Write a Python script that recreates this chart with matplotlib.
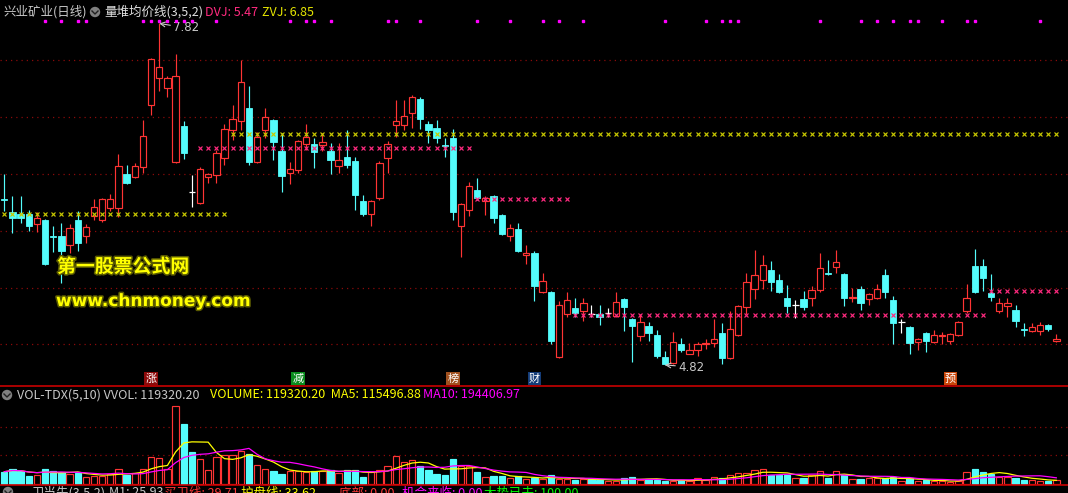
import matplotlib
matplotlib.use('Agg')
import matplotlib.pyplot as plt
import matplotlib.patheffects as pe
from matplotlib.patches import Circle
import matplotlib.transforms as mtransforms
import numpy as np
import pandas as pd

# ---------------- data ----------------
opens = [6.28, 6.16, 6.15, 6.15, 6.06, 6.09, 5.95, 5.95, 5.87, 6.09,
         5.95, 6.13, 6.09, 6.20, 6.20, 6.50, 6.47, 6.56, 7.10, 7.34,
         7.25, 6.60, 6.92, 6.34, 6.24, 6.47, 6.49, 6.64, 6.88, 6.96,
         7.08, 6.60, 6.88, 6.97, 6.70, 6.51, 6.53, 6.76, 6.76, 6.75,
         6.70, 6.57, 6.65, 6.61, 6.26, 6.15, 6.29, 6.64, 6.93, 6.93,
         7.03, 7.16, 6.94, 6.90, 6.75, 6.81, 6.04, 6.18, 6.36, 6.26,
         6.30, 6.14, 5.95, 6.01, 5.79, 5.80, 5.46, 5.46, 4.89, 5.27,
         5.32, 5.29, 5.27, 5.27, 5.28, 5.25, 5.40, 5.22, 5.07, 5.16,
         5.08, 4.89, 4.84, 5.00, 4.92, 4.95, 5.00, 5.01, 5.10, 4.88,
         5.08, 5.33, 5.49, 5.57, 5.65, 5.57, 5.41, 5.35, 5.40, 5.41,
         5.48, 5.63, 5.68, 5.62, 5.41, 5.49, 5.40, 5.41, 5.61, 5.39,
         5.20, 5.15, 5.02, 5.10, 5.02, 5.07, 5.03, 5.08, 5.29, 5.69,
         5.69, 5.45, 5.29, 5.34, 5.30, 5.14, 5.12, 5.12, 5.17, 5.03]
closes = [6.27, 6.11, 6.11, 6.04, 6.11, 5.71, 5.94, 5.82, 6.02, 5.89,
          6.03, 6.21, 6.28, 6.28, 6.57, 6.42, 6.57, 6.83, 7.51, 7.44,
          7.34, 7.36, 6.68, 6.34, 6.54, 6.50, 6.68, 6.89, 6.98, 7.31,
          6.60, 6.82, 7.00, 6.78, 6.48, 6.54, 6.79, 6.82, 6.69, 6.78,
          6.62, 6.62, 6.58, 6.31, 6.15, 6.26, 6.59, 6.76, 6.96, 7.01,
          7.17, 6.98, 6.88, 6.81, 6.74, 6.16, 6.23, 6.39, 6.29, 6.29,
          6.11, 5.97, 6.02, 5.82, 5.80, 5.51, 5.56, 5.03, 5.35, 5.39,
          5.28, 5.36, 5.27, 5.24, 5.28, 5.37, 5.33, 5.16, 5.20, 5.10,
          4.90, 4.83, 5.02, 4.95, 4.95, 5.00, 5.01, 5.05, 4.88, 5.14,
          5.34, 5.55, 5.61, 5.70, 5.55, 5.46, 5.34, 5.35, 5.33, 5.48,
          5.67, 5.62, 5.72, 5.41, 5.42, 5.36, 5.44, 5.49, 5.46, 5.19,
          5.20, 5.01, 5.05, 5.03, 5.08, 5.08, 5.09, 5.20, 5.41, 5.46,
          5.58, 5.42, 5.36, 5.36, 5.21, 5.13, 5.15, 5.17, 5.14, 5.05]
highs = [6.50, 6.30, 6.30, 6.18, 6.16, 6.10, 6.04, 6.07, 6.06, 6.17,
         6.06, 6.28, 6.29, 6.32, 6.67, 6.58, 6.59, 6.97, 7.52, 7.82,
         7.36, 7.55, 6.96, 6.49, 6.56, 6.51, 6.71, 6.94, 7.10, 7.50,
         7.27, 6.87, 7.08, 6.98, 6.86, 6.60, 6.80, 6.94, 6.81, 6.86,
         6.77, 6.77, 6.88, 6.65, 6.31, 6.27, 6.61, 6.79, 7.15, 7.15,
         7.19, 7.17, 6.96, 6.97, 6.81, 6.89, 6.24, 6.43, 6.46, 6.30,
         6.31, 6.15, 6.06, 6.07, 5.87, 5.82, 5.63, 5.47, 5.38, 5.46,
         5.41, 5.41, 5.35, 5.35, 5.32, 5.46, 5.41, 5.23, 5.27, 5.20,
         5.13, 4.94, 5.11, 5.06, 5.01, 5.02, 5.05, 5.22, 5.19, 5.29,
         5.35, 5.63, 5.83, 5.79, 5.73, 5.62, 5.52, 5.39, 5.47, 5.51,
         5.80, 5.74, 5.83, 5.63, 5.50, 5.51, 5.45, 5.53, 5.66, 5.43,
         5.22, 5.16, 5.06, 5.11, 5.13, 5.11, 5.10, 5.21, 5.53, 5.84,
         5.75, 5.62, 5.41, 5.41, 5.35, 5.19, 5.19, 5.20, 5.18, 5.09]
lows = [6.17, 5.98, 6.07, 6.00, 5.99, 5.70, 5.81, 5.54, 5.80, 5.82,
        5.89, 6.09, 6.08, 6.17, 6.12, 6.41, 6.46, 6.51, 7.02, 7.23,
        7.17, 6.59, 6.63, 6.21, 6.23, 6.42, 6.42, 6.58, 6.80, 6.88,
        6.58, 6.59, 6.81, 6.62, 6.34, 6.41, 6.51, 6.71, 6.55, 6.70,
        6.50, 6.51, 6.55, 6.18, 6.13, 6.04, 6.27, 6.51, 6.82, 6.88,
        6.90, 6.89, 6.77, 6.77, 6.65, 6.09, 5.77, 6.13, 6.27, 6.14,
        6.07, 5.96, 5.91, 5.81, 5.71, 5.38, 5.45, 5.00, 4.88, 5.24,
        5.24, 5.21, 5.24, 5.17, 5.24, 5.24, 5.12, 4.85, 5.03, 5.03,
        4.88, 4.82, 4.83, 4.93, 4.92, 4.90, 4.96, 4.98, 4.83, 4.87,
        5.07, 5.27, 5.40, 5.49, 5.47, 5.45, 5.28, 5.23, 5.30, 5.34,
        5.46, 5.61, 5.63, 5.34, 5.37, 5.30, 5.35, 5.40, 5.41, 5.00,
        5.10, 4.92, 4.95, 4.93, 5.01, 5.00, 5.00, 5.07, 5.28, 5.45,
        5.47, 5.38, 5.28, 5.24, 5.15, 5.07, 5.11, 5.08, 5.12, 5.02]
volumes = [387500, 463100, 409500, 252000, 274100, 463100, 400100, 378000, 305600, 356000,
           211100, 261500, 261500, 324500, 463100, 283500, 337100, 463100, 841100, 809600,
           463100, 2457000, 1890000, 1017500, 787500, 441000, 841100, 904100, 904100, 1030100,
           945000, 589100, 472500, 419000, 305600, 419000, 419000, 368600, 419000, 419000,
           431600, 337100, 441000, 441000, 220500, 378000, 441000, 557600, 872600, 683600,
           746600, 567000, 441000, 305600, 283500, 787500, 576500, 567000, 378000, 220500,
           252000, 252000, 189000, 252000, 157500, 189000, 157500, 274100, 167000, 148100,
           126000, 167000, 148100, 126000, 94500, 94500, 189000, 220500, 135500, 148100,
           126000, 94500, 94500, 126000, 94500, 179600, 126000, 211100, 179600, 274100,
           337100, 337100, 431600, 463100, 283500, 283500, 283500, 179600, 198500, 283500,
           400100, 189000, 400100, 283500, 148100, 167000, 189000, 179600, 179600, 230000,
           94500, 179600, 85100, 116600, 94500, 94500, 72500, 94500, 378000, 472500,
           390000, 326000, 228600, 236000, 185986, 140600, 113400, 110200, 93964, 119320]

# 量堆均价线 segments: (first bar, last bar, level)
zvj_segments = [(0, 27, 6.15), (28, 129, 6.85)]
dvj_segments = [(24, 57, 6.73), (58, 69, 6.28), (70, 120, 5.26), (121, 129, 5.47)]
signal_bars = [5, 7, 9, 10, 17, 18, 19, 20, 21, 22, 23, 26, 35, 37, 38, 40, 47, 48, 51,
               58, 62, 66, 68, 71, 81, 86, 88, 89, 90, 100, 105, 107, 109, 111, 112,
               115, 118, 119, 127]
price_grid = [5.0, 5.5, 6.0, 6.5, 7.0, 7.5]
vol_grid = [900000, 1800000]
event_labels = ['涨', '减', '榜', '财', '预']
event_bars = [18, 36, 55, 65, 116]
event_colors = ['#8c0a0a', '#0a8c1e', '#a0501e', '#143c78', '#c8460a']
hi_label, hi_bar = '7.82', 19
lo_label, lo_bar = '4.82', 81

# ---------------- style ----------------
W, H = 1068, 493
RED = '#ff3434'
CYAN = '#54fcfc'
WHITE = '#ffffff'
GRID = '#8a0a0a'

plt.rcParams['font.family'] = ['Noto Sans CJK SC', 'DejaVu Sans']

fig = plt.figure(figsize=(W / 100, H / 100), dpi=100, facecolor='black')


def fy(py):
    return 1 - py / H


ax = fig.add_axes([0, fy(386), 1, 386 / H])
axv = fig.add_axes([0, fy(485), 1, 99 / H])
for a in (ax, axv):
    a.set_facecolor('black')
    for s in a.spines.values():
        s.set_visible(False)
    a.set_xticks([])
    a.set_yticks([])

n = len(opens)
x = np.arange(n)
O = np.array(opens); C = np.array(closes); Hh = np.array(highs); L = np.array(lows)
V = np.array(volumes, dtype=float)

cols = np.where(C > O, 'up', np.where(C < O, 'dn', 'eq'))
candle_col = [RED if c == 'up' else CYAN if c == 'dn' else WHITE for c in cols]
prevC = np.r_[C[0], C[:-1]]
vol_up = [(c == 'up') or (c == 'eq' and C[i] >= prevC[i]) for i, c in enumerate(cols)]

xmin, xmax = -0.527, 130.43
ax.set_xlim(xmin, xmax)
axv.set_xlim(xmin, xmax)
ax.set_ylim(4.635, 8.026)

for g in price_grid:
    ax.axhline(g, color=GRID, lw=0.9, ls=(0, (1, 3.2)), zorder=0)

# wicks
ax.vlines(x, L, Hh, colors=candle_col, lw=0.85, zorder=2)
# bodies
bw = 0.78
for i in range(n):
    b = min(O[i], C[i]); h = abs(C[i] - O[i])
    if cols[i] == 'up':
        ax.bar(x[i], h, bw, bottom=b, facecolor='black', edgecolor=RED, lw=0.85, zorder=3)
    elif cols[i] == 'dn':
        ax.bar(x[i], h, bw, bottom=b, facecolor=CYAN, edgecolor=CYAN, lw=0.6, zorder=3)
    else:
        ax.hlines(C[i], x[i] - bw / 2, x[i] + bw / 2, colors=WHITE, lw=0.9, zorder=3)

# x-marker lines
for s, e, lv in zvj_segments:
    xs = np.arange(s, e + 1)
    ax.plot(xs, np.full(len(xs), lv), ls='none', marker='x', ms=3.4, mew=0.85,
            color='#c8c800', zorder=4)
for s, e, lv in dvj_segments:
    xs = np.arange(s, e + 1)
    ax.plot(xs, np.full(len(xs), lv), ls='none', marker='x', ms=3.4, mew=0.85,
            color='#ff2a7f', zorder=4)

# signal dots near top
trans = mtransforms.blended_transform_factory(ax.transData, ax.transAxes)
ax.plot(signal_bars, np.full(len(signal_bars), 1 - 21 / 386), ls='none', marker='s',
        ms=1.8, color='#ff00ff', mec='#ff00ff', transform=trans, zorder=5)

# high / low annotations
ax.annotate(hi_label, xy=(hi_bar, Hh[hi_bar]), xytext=(10, -3.2), textcoords='offset points',
            ha='left', va='center', color='#c8c8c8', fontsize=8.5, family='DejaVu Sans',
            arrowprops=dict(arrowstyle='->', color='#c8c8c8', lw=0.8, shrinkA=0, shrinkB=0))
ax.annotate(lo_label, xy=(lo_bar, L[lo_bar]), xytext=(9.5, -1.5), textcoords='offset points',
            ha='left', va='center', color='#c8c8c8', fontsize=8.5, family='DejaVu Sans',
            arrowprops=dict(arrowstyle='->', color='#c8c8c8', lw=0.8, shrinkA=0, shrinkB=0))

# event boxes at bottom of main panel
for lab, b, c in zip(event_labels, event_bars, event_colors):
    ax.text(b, 1 - 378.5 / 386, lab, transform=trans, ha='center', va='center',
            fontsize=8, color='white',
            bbox=dict(boxstyle='square,pad=0.1', facecolor=c, edgecolor='none'))

# watermark
peff = [pe.withStroke(linewidth=2.2, foreground='#5a5a00')]
fig.text(57 / W, fy(267), '第一股票公式网', ha='left', va='center', fontsize=13.6,
         fontweight='bold', color='#ffff00', path_effects=peff)
fig.text(56 / W, fy(301), 'www.chnmoney.com', ha='left', va='center', fontsize=12.2,
         fontweight='bold', family='DejaVu Sans', color='#ffff00', path_effects=peff)

# volume panel
vcol_face = ['black' if u else CYAN for u in vol_up]
vcol_edge = [RED if u else CYAN for u in vol_up]
axv.bar(x, V, bw, facecolor=vcol_face, edgecolor=vcol_edge, lw=0.85, zorder=3)
ma5 = pd.Series(V).rolling(5, min_periods=1).mean()
ma10 = pd.Series(V).rolling(10, min_periods=1).mean()
axv.plot(x, ma5, color='#ffff00', lw=0.9, zorder=4)
axv.plot(x, ma10, color='#ff00ff', lw=0.9, zorder=4)
axv.set_ylim(-31500, 98 * 31500)
for g in vol_grid:
    axv.axhline(g, color=GRID, lw=0.9, ls=(0, (1, 3.2)), zorder=0)

# separator lines
for py in (386, 485):
    fig.add_artist(plt.Line2D([0, 1], [fy(py), fy(py)], color='#c80000', lw=1.2))


def icon(px, py):
    c = Circle((px / 100, (H - py) / 100), 0.052, transform=fig.dpi_scale_trans,
               facecolor='#808080', edgecolor='none')
    fig.add_artist(c)
    fig.add_artist(plt.Line2D([(px - 3) / 100, px / 100, (px + 3) / 100],
                              [(H - py + 1) / 100, (H - py - 2) / 100, (H - py + 1) / 100],
                              transform=fig.dpi_scale_trans, color='#202020', lw=1.0))


# titles
fs = 9
fig.text(3 / W, fy(12), '兴业矿业(日线)', ha='left', va='center', fontsize=fs, color='#c8c8c8')
icon(95, 12)
fig.text(104 / W, fy(12), '量堆均价线(3,5,2)', ha='left', va='center', fontsize=fs, color='#e0e0e0')
fig.text(205 / W, fy(12), 'DVJ: 5.47', ha='left', va='center', fontsize=fs, color='#ff2a7f')
fig.text(262 / W, fy(12), 'ZVJ: 6.85', ha='left', va='center', fontsize=fs, color='#e6e600')

icon(7, 395)
fig.text(17 / W, fy(395), 'VOL-TDX(5,10) VVOL: 119320.20', ha='left', va='center',
         fontsize=fs, color='#c8c8c8')
fig.text(210 / W, fy(395), 'VOLUME: 119320.20  MA5: 115496.88', ha='left', va='center',
         fontsize=fs, color='#ffff00')
fig.text(423 / W, fy(395), 'MA10: 194406.97', ha='left', va='center', fontsize=fs, color='#ff00ff')

# header of the next (cut off) indicator panel
icon(8, 492)
bottom = [(31, '卫当先(3,5,2)', '#c8c8c8'), (109, 'M1: 25.93', '#c8c8c8'),
          (164, '买卫线: 29.71', '#ff3434'), (241, '护盘线: 33.62', '#ffff00'),
          (339, '底部: 0.00', '#ff3434'), (402, '机会来临: 0.00', '#ff00ff'),
          (484, '大势已去: 100.00', '#00ff00')]
for px, t, c in bottom:
    fig.text(px / W, fy(486.5), t, ha='left', va='top', fontsize=fs, color=c)

fig.savefig('out.png', dpi=100, facecolor='black')
